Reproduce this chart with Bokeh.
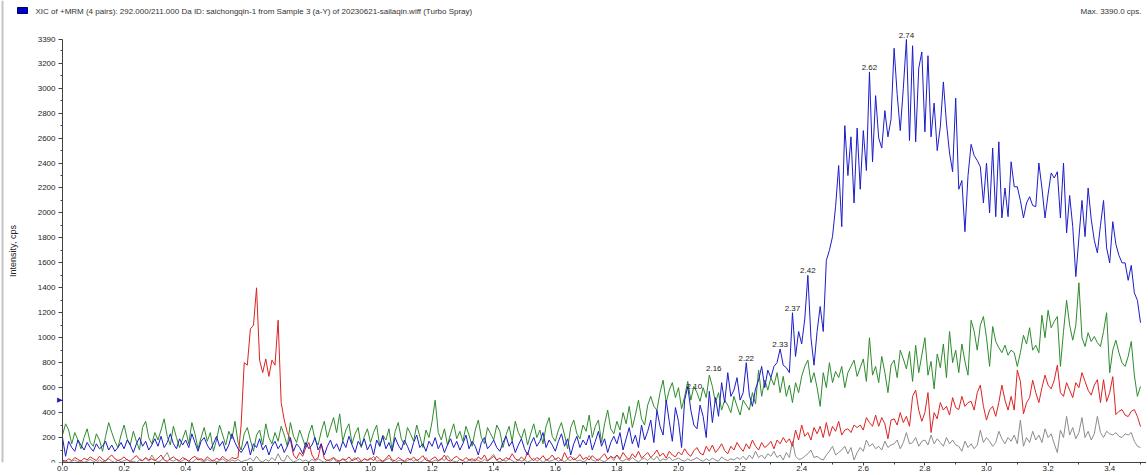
from bokeh.plotting import figure
from bokeh.models import Range1d, FixedTicker, NumeralTickFormatter, Label, Span
from bokeh.embed import file_html
from bokeh.resources import INLINE

# ---------------- data (cps, sampled every 0.01 min from 0.00 to 3.50) ----------------
time_step = 0.01

blue_cps = [
    200, 50, 170, 120, 90, 180, 140, 100, 160, 120,
    90, 150, 110, 130, 170, 100, 140, 90, 120, 160,
    110, 180, 140, 80, 150, 200, 130, 170, 100, 140,
    190, 130, 210, 120, 160, 230, 150, 110, 190, 140,
    180, 120, 230, 160, 90, 170, 200, 140, 100, 150,
    210, 130, 170, 90, 140, 230, 160, 110, 80, 120,
    170, 60, 150, 120, 190, 100, 140, 60, 130, 170,
    110, 150, 80, 130, 200, 90, 150, 120, 70, 160,
    110, 140, 200, 100, 150, 60, 130, 180, 110, 150,
    90, 170, 120, 210, 140, 80, 170, 130, 190, 100,
    150, 60, 180, 130, 210, 110, 160, 90, 200, 140,
    100, 180, 130, 70, 160, 220, 120, 150, 90, 170,
    130, 200, 110, 160, 80, 140, 190, 120, 170, 100,
    150, 220, 110, 170, 130, 60, 160, 200, 110, 140,
    180, 120, 90, 160, 210, 130, 170, 80, 140, 190,
    110, 60, 150, 200, 130, 170, 240, 120, 180, 140,
    90, 170, 230, 130, 190, 60, 150, 210, 120, 180,
    140, 220, 100, 170, 250, 130, 190, 80, 160, 210,
    150, 240, 100, 190, 280, 150, 220, 120, 300, 180,
    250, 340, 160, 420, 290, 220, 500, 330, 170, 440,
    330, 120, 500, 610, 420, 300, 270, 460, 370, 200,
    570, 320, 520, 370, 640, 480, 720, 530, 580, 680,
    500, 560, 800, 540, 450, 590, 660, 770, 600, 740,
    680, 770, 800, 910, 780, 760, 720, 1200, 850, 1050,
    950, 1150, 1500, 1000, 780, 1050, 1250, 1050, 1620, 1700,
    1810, 2050, 2380, 1890, 2700, 2300, 2610, 2080, 2680, 2190,
    2660, 2340, 3130, 2410, 2940, 2600, 2520, 2820, 2610, 2750,
    3320, 2950, 2660, 3000, 3390, 2580, 3340, 2570, 3160, 3290,
    2650, 3260, 2610, 2880, 2500, 2690, 3050, 2720, 2480, 2330,
    2920, 2190, 2260, 1850, 2300, 2550, 2460, 2420, 2370, 2080,
    2400, 2000, 2520, 1970, 2570, 1960, 2200, 1970, 2410, 2210,
    2210, 2100, 1960, 2080, 2130, 2060, 2050, 2400, 2200, 1960,
    2150, 2320, 2280, 2330, 1960, 2400, 1840, 2140, 1890, 1490,
    1800, 2100, 1810, 2200, 1950, 1780, 1680, 1900, 2100, 1720,
    1600, 1930, 1750, 1660, 1600, 1600, 1460, 1580, 1360, 1300,
    1120,
]

green_cps = [
    220, 310, 260, 150, 240, 180, 110, 200, 270, 160,
    130, 230, 180, 90, 210, 320, 240, 170, 120, 220,
    300, 190, 140, 250, 170, 100, 280, 330, 200, 150,
    240, 180, 260, 350, 210, 140, 290, 200, 120, 190,
    260, 150, 320, 230, 110, 200, 280, 170, 240, 90,
    180, 300, 220, 140, 250, 190, 330, 160, 100, 230,
    280, 180, 90, 220, 260, 140, 310, 200, 150, 240,
    170, 290, 220, 130, 320, 210, 160, 260, 190, 120,
    230, 300, 180, 140, 250, 330, 200, 280, 360, 240,
    390, 170, 260, 310, 150, 230, 280, 120, 210, 270,
    160, 240, 300, 130, 220, 180, 270, 100, 250, 320,
    190, 140, 280, 230, 170, 300, 210, 120, 260, 200,
    330, 500, 240, 180, 270, 140, 230, 310, 190, 250,
    170, 290, 220, 130, 260, 340, 200, 150, 280, 230,
    180, 300, 250, 120, 220, 290, 170, 330, 240, 190,
    270, 140, 230, 310, 200, 260, 150, 290, 360, 210,
    170, 260, 320, 220, 110, 280, 340, 230, 190, 300,
    250, 380, 200, 290, 340, 160, 310, 420, 270, 230,
    330, 260, 400, 310, 450, 280, 380, 500, 350, 300,
    460, 530, 450, 420, 560, 660, 480, 580, 640, 520,
    600, 430, 530, 650, 500, 610, 560, 490, 600, 520,
    700, 610, 480, 560, 420, 500, 460, 400, 530, 450,
    380, 500, 460, 420, 560, 470, 740, 530, 660, 580,
    680, 620, 720, 560, 690, 530, 620, 480, 640, 560,
    690, 770, 820, 640, 720, 600, 450, 720, 600, 800,
    640, 730, 680, 770, 600, 720, 770, 820, 690, 760,
    830, 650, 1000, 700, 770, 640, 850, 720, 560, 780,
    820, 680, 900, 830, 750, 890, 650, 940, 720, 860,
    1000, 700, 810, 590, 870, 760, 950, 680, 1050, 800,
    900, 720, 950, 810, 700, 1140, 1050, 900, 1100, 1170,
    1000, 770, 1090, 970, 920, 880, 940, 860, 900, 880,
    770, 880, 1020, 950, 1080, 900, 940, 880, 1180, 1000,
    1220, 1080, 1130, 1170, 770, 1050, 1300, 1100, 980, 1100,
    1440, 1000, 930, 1040, 970, 1010, 960, 930, 1050, 1200,
    720, 900, 980, 880, 800, 770, 850, 970, 700, 530,
    610,
]

red_cps = [
    20, 10, 30, 15, 40, 25, 10, 35, 20, 45,
    30, 15, 50, 25, 10, 40, 60, 30, 15, 25,
    45, 20, 10, 35, 55, 25, 15, 40, 20, 30,
    15, 35, 60, 20, 10, 30, 45, 25, 15, 40,
    25, 10, 35, 50, 20, 30, 15, 45, 25, 10,
    35, 20, 50, 25, 15, 40, 30, 40, 300, 800,
    780, 1070, 1100, 1400, 820, 720, 830, 690, 820, 780,
    1140, 480, 340, 240, 180, 60, 30, 80, 50, 120,
    160, 60, 20, 40, 150, 30, 15, 25, 40, 20,
    10, 30, 20, 45, 15, 25, 40, 10, 30, 20,
    35, 15, 50, 25, 10, 30, 60, 20, 15, 40,
    25, 10, 35, 20, 45, 15, 30, 55, 20, 10,
    30, 45, 15, 25, 60, 20, 10, 35, 50, 25,
    15, 40, 20, 30, 10, 45, 25, 60, 15, 30,
    50, 20, 35, 15, 40, 25, 70, 30, 15, 45,
    20, 80, 35, 15, 40, 25, 55, 20, 30, 60,
    25, 40, 15, 80, 30, 50, 20, 35, 65, 25,
    40, 20, 55, 30, 15, 45, 70, 25, 50, 35,
    60, 30, 80, 45, 25, 70, 40, 90, 35, 55,
    80, 40, 65, 100, 50, 75, 35, 90, 60, 45,
    85, 60, 110, 70, 50, 95, 120, 75, 60, 130,
    90, 140, 80, 110, 150, 95, 70, 130, 100, 160,
    120, 90, 150, 110, 180, 130, 100, 160, 120, 140,
    170, 110, 180, 150, 200, 160, 190, 130, 260, 180,
    300, 210, 240, 180, 280, 230, 290, 200, 320, 210,
    290, 250, 330, 220, 260, 270, 240, 300, 280, 300,
    260, 360, 320, 290, 380, 290, 360, 310, 190, 340,
    350, 300, 400, 320, 370, 290, 530, 580, 420, 330,
    400, 560, 240, 400, 350, 480, 420, 450, 380, 520,
    440, 424, 530, 450, 480, 490, 420, 560, 620, 450,
    340, 420, 450, 370, 480, 620, 500, 420, 530, 420,
    740, 650, 390, 480, 520, 660, 560, 480, 600, 700,
    620, 590, 660, 780, 560, 530, 640, 580, 520, 640,
    600, 720, 650, 580, 540, 620, 664, 480, 664, 488,
    560, 688, 384, 410, 424, 380, 368, 410, 424, 368,
    288,
]

gray_cps = [
    5, 15, 0, 10, 20, 5, 15, 0, 10, 25,
    10, 0, 20, 5, 15, 30, 10, 0, 20, 5,
    15, 25, 5, 10, 0, 20, 15, 35, 10, 60,
    20, 5, 15, 45, 80, 20, 10, 25, 5, 15,
    30, 10, 0, 20, 40, 15, 5, 25, 10, 20,
    5, 15, 30, 10, 0, 20, 10, 25, 5, 15,
    20, 35, 10, 50, 15, 5, 25, 10, 40, 15,
    70, 20, 10, 60, 25, 5, 15, 30, 10, 20,
    5, 25, 10, 30, 15, 0, 20, 10, 35, 5,
    15, 25, 10, 0, 20, 40, 10, 5, 30, 15,
    25, 50, 10, 15, 5, 20, 35, 10, 0, 15,
    20, 5, 15, 30, 10, 25, 0, 15, 40, 10,
    5, 20, 10, 35, 15, 55, 20, 10, 5, 25,
    15, 0, 20, 10, 30, 15, 5, 25, 10, 40,
    65, 15, 5, 20, 10, 30, 15, 0, 25, 10,
    20, 5, 15, 35, 10, 25, 0, 20, 10, 15,
    30, 10, 20, 5, 25, 15, 40, 10, 20, 5,
    15, 55, 20, 10, 30, 15, 5, 25, 45, 15,
    60, 20, 10, 30, 15, 40, 20, 5, 25, 35,
    15, 40, 20, 50, 10, 30, 20, 45, 15, 25,
    35, 20, 10, 30, 15, 25, 40, 20, 10, 30,
    15, 35, 20, 10, 45, 25, 15, 30, 20, 40,
    25, 50, 20, 60, 30, 90, 40, 60, 30, 70,
    50, 90, 40, 60, 20, 80, 40, 170, 50, 25,
    30, 50, 70, 100, 40, 50, 30, 20, 60, 90,
    130, 60, 80, 100, 130, 70, 120, 20, 80, 120,
    90, 180, 130, 150, 110, 130, 100, 170, 120, 140,
    150, 180, 110, 160, 240, 150, 160, 200, 130, 170,
    180, 140, 220, 150, 190, 160, 130, 200, 150, 180,
    140, 130, 90, 170, 120, 150, 110, 140, 260, 160,
    200, 170, 130, 160, 250, 190, 150, 200, 170, 220,
    150, 340, 130, 200, 160, 250, 180, 220, 160, 270,
    200, 230, 150, 80, 260, 200, 370, 220, 280, 190,
    240, 360, 200, 250, 180, 230, 370, 240, 200, 250,
    230, 220, 240, 210, 200, 230, 220, 240, 170, 130,
    120,
]

peak_labels = ["2.10", "2.16", "2.22", "2.33", "2.37", "2.42", "2.62", "2.74"]

x_ticks = [0.0, 0.2, 0.4, 0.6, 0.8, 1.0, 1.2, 1.4, 1.6, 1.8, 2.0, 2.2, 2.4, 2.6, 2.8, 3.0, 3.2, 3.4]
y_ticks = [0, 200, 400, 600, 800, 1000, 1200, 1400, 1600, 1800, 2000, 2200, 2400,
           2600, 2800, 3000, 3200, 3390]
x_end = 3.5
y_max = 3390

title_text = ("XIC of +MRM (4 pairs): 292.000/211.000 Da ID: saichongqin-1 from Sample 3 (a-Y) "
              "of 20230621-sailaqin.wiff (Turbo Spray)")
max_text = "Max. 3390.0 cps."
y_label = "Intensity, cps"
marker_level = 500

# ---------------- layout (pixels) ----------------
FONT = "Liberation Sans"
FRAME_W, FRAME_H = 1146, 462
AXIS_X_PX = 62           # y axis sits 62 px right of the frame's left edge
DATA_RIGHT_PX = 1140     # x = 3.5 lies here
AXIS_TOP_PX = 39         # 3390 sits 39 px below the frame's top edge
px_per_min = (DATA_RIGHT_PX - AXIS_X_PX) / x_end
px_per_cps = (FRAME_H - AXIS_TOP_PX) / y_max
x_start = -AXIS_X_PX / px_per_min
x_range_end = (FRAME_W - AXIS_X_PX) / px_per_min
y_end = FRAME_H / px_per_cps

p = figure(frame_width=FRAME_W, frame_height=FRAME_H,
           x_range=Range1d(x_start, x_range_end), y_range=Range1d(0, y_end),
           output_backend="svg", toolbar_location=None,
           min_border_left=0, min_border_right=0, min_border_top=0, min_border_bottom=0)
p.outline_line_color = None
p.xgrid.visible = False
p.ygrid.visible = False

# thin window border at the far left, as in the screenshot
p.add_layout(Span(location=x_start + 2 / px_per_min, dimension="height",
                  line_color="#c4c4c4", line_width=2))


def times_for(series):
    return [round(i * time_step, 2) for i in range(len(series))]


for series, color in ((gray_cps, "#8c8c8c"), (green_cps, "#2e8b2e"),
                      (red_cps, "#dd2222"), (blue_cps, "#1c1cc8")):
    p.line(times_for(series), series, line_color=color, line_width=1)

# axes
xa = p.xaxis[0]
xa.ticker = FixedTicker(ticks=x_ticks,
                        minor_ticks=[round(0.1 * i, 1) for i in range(0, 36)])
xa.formatter = NumeralTickFormatter(format="0.0")
xa.bounds = (0, x_range_end)
ya = p.yaxis[0]
ya.ticker = FixedTicker(ticks=y_ticks, minor_ticks=list(range(100, 3390, 100)))
ya.bounds = (0, y_max)
ya.fixed_location = 0
for ax in (xa, ya):
    ax.axis_line_color = "#404040"
    ax.major_tick_line_color = "#404040"
    ax.minor_tick_line_color = "#404040"
    ax.major_tick_out = 4
    ax.major_tick_in = 0
    ax.minor_tick_out = 2
    ax.minor_tick_in = 0
    ax.major_label_text_font = FONT
    ax.major_label_text_font_size = "8px"
    ax.major_label_text_color = "#222222"
xa.major_tick_out = 3
xa.major_label_standoff = 0
ya.major_label_standoff = 3
ya.axis_label = y_label
ya.axis_label_text_font = FONT
ya.axis_label_text_font_size = "9px"
ya.axis_label_text_font_style = "normal"
ya.axis_label_text_color = "#222222"
ya.axis_label_standoff = 17

# peak labels on the blue trace
label_dx = {"2.10": -15, "2.16": -14}
for lab in peak_labels:
    t = float(lab)
    idx = int(round(t / time_step))
    p.add_layout(Label(x=t, y=blue_cps[idx], text=lab, x_offset=label_dx.get(lab, 0), y_offset=2,
                       text_align="center", text_baseline="bottom", text_font=FONT,
                       text_font_size="8px", text_color="#222222"))

# header
p.add_layout(Label(x=0, y=y_max, x_offset=-27, y_offset=28, text=title_text, text_align="left",
                   text_baseline="middle", text_font=FONT, text_font_size="8px",
                   text_color="#333333"))
p.add_layout(Label(x=x_end, y=y_max, x_offset=1, y_offset=28, text=max_text, text_align="right",
                   text_baseline="middle", text_font=FONT, text_font_size="8px",
                   text_color="#333333"))
p.add_layout(Label(x=0, y=y_max, x_offset=-40, y_offset=29, text="\u2003\u2003", text_align="center",
                   text_baseline="middle", text_font=FONT, text_font_size="5px",
                   background_fill_color="#0000cc", border_line_color="#000066"))
# level marker on the y axis
p.add_layout(Label(x=0, y=marker_level, x_offset=0, text="\u25B6", text_align="right",
                   text_baseline="middle", text_font="DejaVu Sans", text_font_size="7px",
                   text_color="#1c1cc8"))

open("out.html", "w").write(file_html(p, INLINE))
